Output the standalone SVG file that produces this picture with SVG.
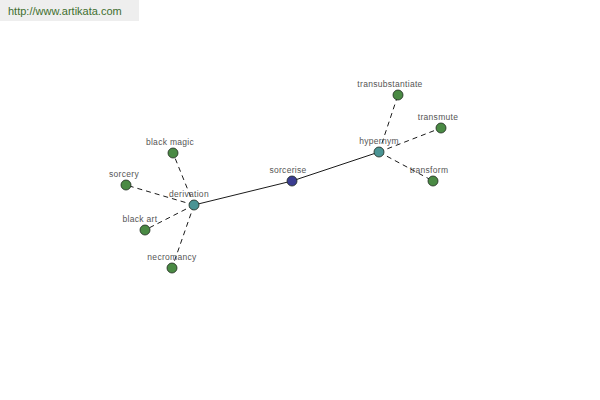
<svg xmlns="http://www.w3.org/2000/svg" width="600" height="400" viewBox="0 0 600 400">
<style>
.n{stroke:#1e2a1e;stroke-width:0.8}
.g{fill:#4a8a44}
.t{fill:#4a9494}
.b{fill:#3a3c90}
.l{font-family:"Liberation Sans",Arial,sans-serif;font-size:8.5px;letter-spacing:0.3px;fill:#555;text-anchor:middle}
.d{stroke:#000;stroke-width:0.9;stroke-dasharray:5,4;fill:none}
.s{stroke:#000;stroke-width:0.9;fill:none}
</style>
<rect width="600" height="400" fill="#fff"/>
<rect x="0" y="0" width="139" height="21" fill="#eeeeee"/>
<text x="8" y="15" font-family="'Liberation Sans',Arial,sans-serif" font-size="11" fill="#3e6e2e">http://www.artikata.com</text>
<g id="connectors">
<line class="s" x1="194" y1="205" x2="292" y2="181"/>
<line class="s" x1="292" y1="181" x2="379" y2="152"/>
<line class="d" x1="194" y1="205" x2="173" y2="153"/>
<line class="d" x1="194" y1="205" x2="126" y2="185"/>
<line class="d" x1="194" y1="205" x2="145" y2="230"/>
<line class="d" x1="194" y1="205" x2="172" y2="268"/>
<line class="d" x1="379" y1="152" x2="398" y2="95"/>
<line class="d" x1="379" y1="152" x2="441" y2="128"/>
<line class="d" x1="379" y1="152" x2="433" y2="181"/>
</g>
<g id="derivation"><circle class="n t" cx="194" cy="205" r="5"/><text class="l" x="189" y="197">derivation</text></g>
<g id="sorcerise"><circle class="n b" cx="292" cy="181" r="5"/><text class="l" x="288" y="173">sorcerise</text></g>
<g id="hypernym"><circle class="n t" cx="379" cy="152" r="5"/><text class="l" x="379" y="144">hypernym</text></g>
<g id="transubstantiate"><circle class="n g" cx="398" cy="95" r="5"/><text class="l" x="390" y="87">transubstantiate</text></g>
<g id="transmute"><circle class="n g" cx="441" cy="128" r="5"/><text class="l" x="438" y="120">transmute</text></g>
<g id="transform"><circle class="n g" cx="433" cy="181" r="5"/><text class="l" x="429" y="173">transform</text></g>
<g id="black-magic"><circle class="n g" cx="173" cy="153" r="5"/><text class="l" x="170" y="145">black magic</text></g>
<g id="sorcery"><circle class="n g" cx="126" cy="185" r="5"/><text class="l" x="124" y="177">sorcery</text></g>
<g id="black-art"><circle class="n g" cx="145" cy="230" r="5"/><text class="l" x="140" y="222">black art</text></g>
<g id="necromancy"><circle class="n g" cx="172" cy="268" r="5"/><text class="l" x="172" y="260">necromancy</text></g>
</svg>
